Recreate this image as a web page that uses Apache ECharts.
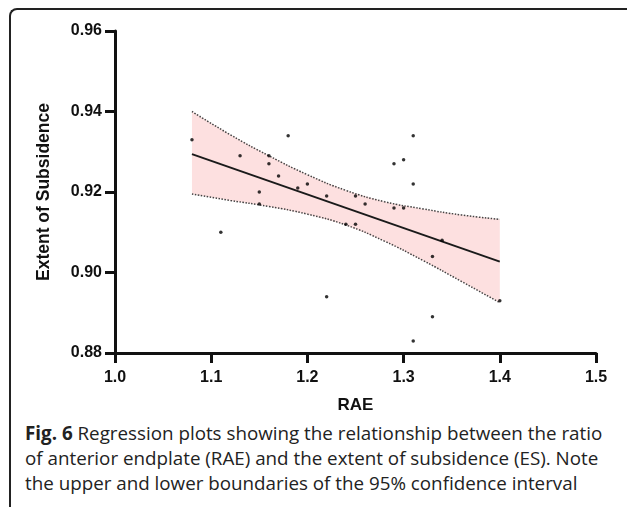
<!DOCTYPE html>
<html>
<head>
<meta charset="utf-8">
<script src="https://cdn.jsdelivr.net/npm/echarts@6/dist/echarts.min.js"></script>
<style>
  html, body { margin: 0; padding: 0; background: #fff; }
  #frame {
    position: absolute; left: 9px; top: 8px; width: 640px; height: 520px;
    border-top: 2px solid #222; border-left: 2px solid #222;
    border-top-left-radius: 8px;
  }
  #chart-container { position: absolute; left: 0; top: 0; width: 627px; height: 420px; }
  #caption {
    position: absolute; left: 25px; top: 421px; width: 600px;
    font-family: "Open Sans", sans-serif; font-size: 18.8px; line-height: 25px;
    color: #222; white-space: nowrap;
  }
  #caption b { font-weight: 700; }
</style>
</head>
<body>
<div id="frame"></div>
<div id="chart-container"></div>
<div id="caption">
  <b>Fig. 6</b> Regression plots showing the relationship between the ratio<br>
  of anterior endplate (RAE) and the extent of subsidence (ES). Note<br>
  the upper and lower boundaries of the 95% confidence interval
</div>
<script>
// observed points: RAE vs extent of subsidence
const raeValues = [1.08, 1.18, 1.31, 1.13, 1.16, 1.16, 1.17, 1.30, 1.29, 1.31,
                   1.19, 1.20, 1.15, 1.22, 1.25, 1.15, 1.26, 1.29, 1.30, 1.24,
                   1.25, 1.11, 1.34, 1.33, 1.22, 1.40, 1.33, 1.31];
const esValues = [0.933, 0.934, 0.934, 0.929, 0.929, 0.927, 0.924, 0.928, 0.927, 0.922,
                  0.921, 0.922, 0.920, 0.919, 0.919, 0.917, 0.917, 0.916, 0.916, 0.912,
                  0.912, 0.910, 0.908, 0.904, 0.894, 0.893, 0.889, 0.883];

// fitted regression line
const fitX = [1.08, 1.40];
const fitY = [0.9294, 0.9027];

// 95% confidence band
const bandX = [1.08, 1.12, 1.16, 1.20, 1.24, 1.28, 1.32, 1.36, 1.40];
const bandUpper = [0.9400, 0.9342, 0.9290, 0.9243, 0.9204, 0.9176, 0.9158, 0.9143, 0.9132];
const bandLower = [0.9195, 0.9179, 0.9164, 0.9145, 0.9118, 0.9078, 0.9030, 0.8978, 0.8925];

const xTicks = [1.0, 1.1, 1.2, 1.3, 1.4, 1.5];
const yTicks = [0.88, 0.90, 0.92, 0.94, 0.96];

const pair = (xs, ys) => xs.map((x, i) => [x, ys[i]]);

const axisFont = { fontFamily: 'Liberation Sans, Arial, sans-serif', fontWeight: 'bold', color: '#111' };

const chart = echarts.init(document.getElementById('chart-container'));
chart.setOption({
    animation: false,
    grid: { left: 115, right: 31, top: 31, bottom: 67 },
    xAxis: {
        type: 'value',
        min: 1.0, max: 1.5, interval: 0.1,
        name: 'RAE', nameLocation: 'middle', nameGap: 44,
        nameTextStyle: Object.assign({ fontSize: 17 }, axisFont),
        axisLine: { lineStyle: { color: '#111', width: 3 } },
        axisTick: { length: 10, lineStyle: { color: '#111', width: 3 } },
        axisLabel: Object.assign({ fontSize: 16, margin: 17,
            formatter: v => xTicks.find(t => Math.abs(t - v) < 1e-9).toFixed(1) }, axisFont),
        splitLine: { show: false }
    },
    yAxis: {
        type: 'value',
        min: 0.88, max: 0.96, interval: 0.02,
        name: 'Extent of Subsidence', nameLocation: 'middle', nameGap: 62,
        nameTextStyle: Object.assign({ fontSize: 17.5 }, axisFont),
        axisLine: { show: true, lineStyle: { color: '#111', width: 3 } },
        axisTick: { show: true, length: 10, lineStyle: { color: '#111', width: 3 } },
        axisLabel: Object.assign({ fontSize: 16, margin: 13,
            formatter: v => yTicks.find(t => Math.abs(t - v) < 1e-9).toFixed(2) }, axisFont),
        splitLine: { show: false }
    },
    series: [
        {
            type: 'custom',
            z: 1,
            data: [[1.2, 0.92]],
            renderItem: function (params, api) {
                const top = bandX.map((x, i) => api.coord([x, bandUpper[i]]));
                const bottom = bandX.map((x, i) => api.coord([x, bandLower[i]])).reverse();
                return {
                    type: 'polygon',
                    shape: { points: top.concat(bottom) },
                    style: { fill: '#fde0e0', stroke: null }
                };
            }
        },
        {
            type: 'line', z: 2, smooth: true, symbol: 'none',
            data: pair(bandX, bandUpper),
            lineStyle: { color: '#444', width: 1.5, type: 'dotted' }
        },
        {
            type: 'line', z: 2, smooth: true, symbol: 'none',
            data: pair(bandX, bandLower),
            lineStyle: { color: '#444', width: 1.5, type: 'dotted' }
        },
        {
            type: 'line', z: 3, symbol: 'none',
            data: pair(fitX, fitY),
            lineStyle: { color: '#1a1a1a', width: 2 }
        },
        {
            type: 'scatter', z: 4,
            symbolSize: 3.5,
            data: pair(raeValues, esValues),
            itemStyle: { color: '#000' }
        }
    ]
});
</script>
</body>
</html>
